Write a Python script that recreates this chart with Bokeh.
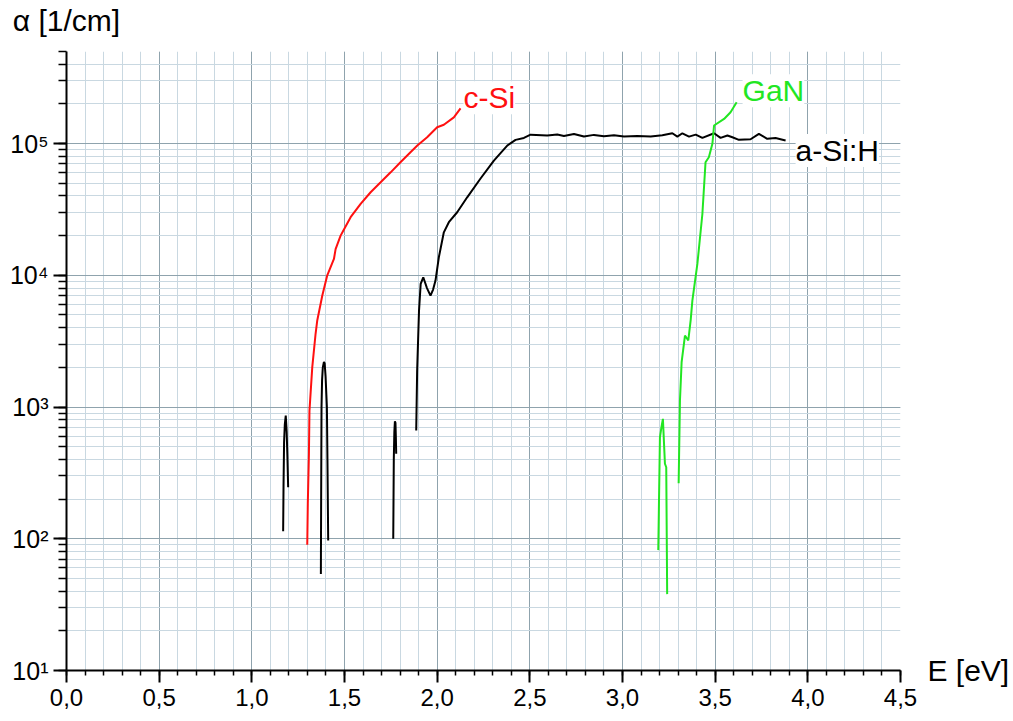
from bokeh.plotting import figure
from bokeh.models import (Range1d, SingleIntervalTicker, LogTicker, CustomJSTickFormatter, Label,
                          LogAxis, LinearAxis, FixedTicker)
from bokeh.embed import file_html
from bokeh.resources import INLINE

# ---- data ----
csi_E = [1.299, 1.302, 1.308, 1.311, 1.326, 1.344, 1.353, 1.380, 1.407, 1.443, 1.452,
         1.479, 1.497, 1.533, 1.587, 1.641, 1.695, 1.749, 1.802, 1.856, 1.893, 1.946,
         2.000, 2.036, 2.090, 2.126]
csi_a = [90, 184, 440, 940, 2000, 3600, 4540, 7000, 10000, 13300, 15800,
         20000, 22300, 27600, 34800, 42700, 50800, 60500, 72100, 85900, 96600, 111600,
         133000, 139000, 158000, 185000]

asi1_E = [1.169, 1.171, 1.174, 1.178, 1.183, 1.188, 1.192, 1.196]
asi1_a = [114, 250, 540, 740, 860, 650, 420, 246]

asi2_E = [1.3725, 1.374, 1.376, 1.379, 1.383, 1.389, 1.393, 1.398, 1.402, 1.405, 1.408, 1.412]
asi2_a = [54, 200, 1000, 1600, 2000, 2200, 2150, 1700, 1250, 1000, 400, 97]

asi3_E = [1.763, 1.766, 1.769, 1.772, 1.775, 1.777, 1.779]
asi3_a = [100, 400, 650, 780, 760, 600, 442]

asi4_E = [1.887, 1.892, 1.902, 1.911, 1.925, 1.945, 1.964, 1.978, 1.991, 2.009, 2.036,
          2.063, 2.108, 2.162, 2.234, 2.306, 2.378, 2.423, 2.468, 2.504,
          2.594, 2.648, 2.684, 2.738, 2.792, 2.846, 2.900, 2.954, 3.008, 3.080,
          3.152, 3.215, 3.269, 3.296, 3.323, 3.359, 3.395, 3.431, 3.494, 3.529,
          3.566, 3.593, 3.628, 3.691, 3.736, 3.781, 3.826, 3.880]
asi4_a = [664, 1890, 5370, 8610, 9660, 8000, 7010, 7800, 9120, 13700, 21200,
          25300, 30100, 39100, 54300, 74300, 96600, 106700, 110400, 116900,
          115100, 117000, 114300, 118300, 113000, 116400, 113800, 115600, 113000, 114300,
          113000, 115600, 119700, 113000, 119700, 113000, 117000, 110400, 119700, 110400,
          115100, 111700, 106700, 107900, 118600, 108600, 110400, 105400]

gan1_E = [3.193, 3.202, 3.210, 3.218, 3.229, 3.236, 3.241]
gan1_a = [82, 590, 700, 813, 371, 349, 38]

gan2_E = [3.303, 3.310, 3.319, 3.337, 3.355, 3.368, 3.377, 3.404, 3.431, 3.448,
          3.466, 3.485, 3.494, 3.548, 3.583, 3.616]
gan2_a = [264, 1120, 2190, 3490, 3200, 4590, 6430, 12200, 29200, 72100,
          78700, 99500, 137100, 153800, 173000, 205600]

series_names = ["c-Si", "GaN", "a-Si:H"]
x_title = "E [eV]"
y_title = "\u03b1 [1/cm]"

RED = "#ff1010"
GREEN = "#22e622"
BLACK = "#000000"
FONT = "Liberation Sans"

p = figure(width=1012, height=720,
           x_range=Range1d(0, 4.5), y_range=Range1d(10, 5e5),
           y_axis_type="log", output_backend="svg", toolbar_location=None,
           min_border_left=66, min_border_right=112, min_border_top=51, min_border_bottom=50)
p.outline_line_color = None
p.background_fill_color = "white"

# axes
xa = p.xaxis[0]
xa.ticker = SingleIntervalTicker(interval=0.5, num_minor_ticks=5)
xa.formatter = CustomJSTickFormatter(code="return tick.toFixed(1).replace('.', ',');")
ya = p.yaxis[0]
ya.ticker = LogTicker(mantissas=[1], num_minor_ticks=10)
ya.formatter = CustomJSTickFormatter(code="""
const sup = ['\\u2070','\\u00b9','\\u00b2','\\u00b3','\\u2074','\\u2075','\\u2076'];
const e = Math.round(Math.log10(tick));
return '10' + sup[e];
""")

for ax in (xa, ya):
    ax.axis_line_color = "black"
    ax.axis_line_width = 2
    ax.major_tick_line_color = "black"
    ax.major_tick_line_width = 2
    ax.minor_tick_line_color = "black"
    ax.minor_tick_line_width = 1.5
    ax.major_tick_in = 0
    ax.minor_tick_in = 0
    ax.major_label_text_font = FONT
    ax.major_label_text_color = "black"
xa.major_label_text_font_size = "24px"
ya.major_label_text_font_size = "25px"
xa.major_tick_out = 12
xa.minor_tick_out = 5
xa.major_label_standoff = 6
ya.major_tick_out = 13
ya.minor_tick_out = 8
ya.major_label_standoff = 5

def title_axis(cls, text, standoff, align):
    ax = cls(ticker=FixedTicker(ticks=[]), axis_line_color=None,
             major_tick_line_color=None, minor_tick_line_color=None,
             major_tick_out=0, minor_tick_out=0, major_tick_in=0, minor_tick_in=0,
             major_label_text_font_size="0px",
             axis_label=text, axis_label_orientation="horizontal",
             axis_label_standoff=standoff, axis_label_text_font=FONT,
             axis_label_text_font_size="30px", axis_label_text_font_style="normal",
             axis_label_text_color="black")
    try:
        ax.axis_label_align = align
    except Exception:
        pass
    return ax

# x title at the right end of the x axis, y title above the top of the y axis
p.add_layout(title_axis(LogAxis, x_title, 27, "start"), "right")
p.add_layout(title_axis(LinearAxis, y_title, 15, "start"), "above")

for g in (p.xgrid[0], p.ygrid[0]):
    g.grid_line_color = "#8fa3ad"
    g.grid_line_width = 1
    g.minor_grid_line_color = "#c9d8e1"
    g.minor_grid_line_width = 1
    g.level = "underlay"

# curves
p.line(csi_E, csi_a, line_color=RED, line_width=2)
for E, a in ((asi1_E, asi1_a), (asi2_E, asi2_a), (asi3_E, asi3_a), (asi4_E, asi4_a)):
    p.line(E, a, line_color=BLACK, line_width=2)
for E, a in ((gan1_E, gan1_a), (gan2_E, gan2_a)):
    p.line(E, a, line_color=GREEN, line_width=2)

# series labels
def lab(x, y, text, color, size="30px"):
    l = Label(x=x, y=y, text=text, text_color=color, text_font=FONT, text_font_size=size,
              text_baseline="middle", text_align="left",
              background_fill_color="white", background_fill_alpha=1.0)
    p.add_layout(l)

lab(2.142, 2.23e5, series_names[0], RED)
lab(3.648, 2.52e5, series_names[1], GREEN)
lab(3.934, 8.85e4, series_names[2], BLACK)

open("out.html", "w", encoding="utf-8").write(file_html(p, INLINE))
